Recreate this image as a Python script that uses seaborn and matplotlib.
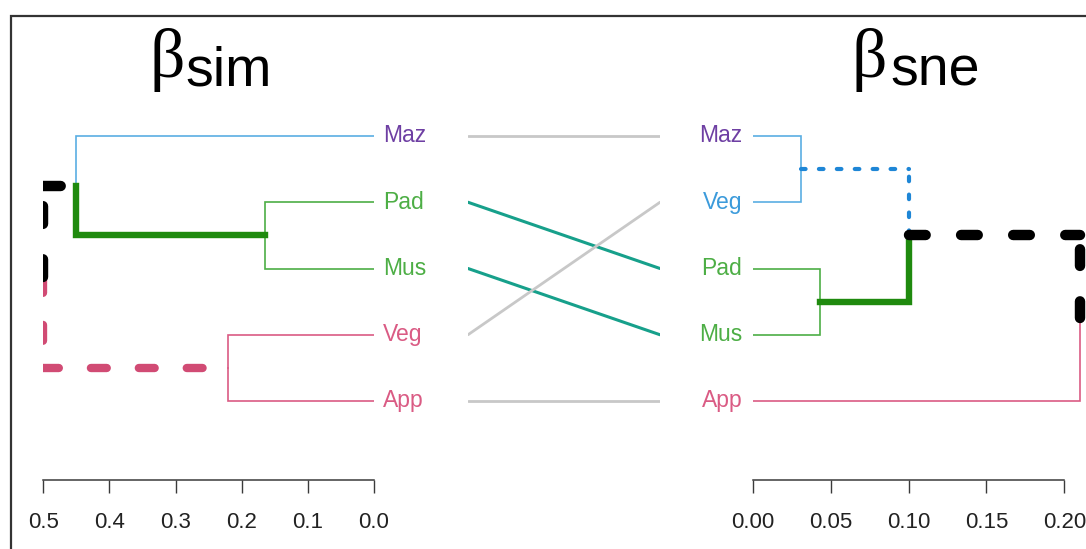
import matplotlib
matplotlib.use("Agg")
import matplotlib.pyplot as plt
import matplotlib.patches as mpatches
import seaborn as sns
import pandas as pd

# ---------------- data ----------------
sim_labels = ["Maz", "Pad", "Mus", "Veg", "App"]
sne_labels = ["Maz", "Veg", "Pad", "Mus", "App"]

# merges: (child_a, child_b, height)
sim_merges = [("Pad", "Mus", 0.165),
              ("Veg", "App", 0.22),
              ("Maz", "Pad+Mus", 0.45),
              ("Maz+Pad+Mus", "Veg+App", 0.50)]
sne_merges = [("Maz", "Veg", 0.031),
              ("Pad", "Mus", 0.043),
              ("Maz+Veg", "Pad+Mus", 0.10),
              ("Maz+Veg+Pad+Mus", "App", 0.21)]

sim_ticks = [0.5, 0.4, 0.3, 0.2, 0.1, 0.0]
sim_ticklabels = ["0.5", "0.4", "0.3", "0.2", "0.1", "0.0"]
sne_ticks = [0.00, 0.05, 0.10, 0.15, 0.20]
sne_ticklabels = ["0.00", "0.05", "0.10", "0.15", "0.20"]

# ---------------- styles ----------------
PURPLE = "#6E3FA3"
GREEN_T = "#4DAE45"
GREEN_K = "#1F8A0E"
PINK_T = "#DA5B84"
PINK_K = "#D14B74"
BLUE_T = "#5AAEE3"
BLUE_K = "#1E86D6"
TEAL = "#17A08B"
GREY = "#C8C8C8"

sim_label_colors = {"Maz": PURPLE, "Pad": GREEN_T, "Mus": GREEN_T, "Veg": PINK_T, "App": PINK_T}
sne_label_colors = {"Maz": PURPLE, "Veg": "#3C9BDB", "Pad": GREEN_T, "Mus": GREEN_T, "App": PINK_T}

thin = dict(lw=1.2, ls="-")
sim_edge = {
    "Maz": dict(color=BLUE_T, **thin),
    "Pad": dict(color=GREEN_T, **thin),
    "Mus": dict(color=GREEN_T, **thin),
    "Veg": dict(color=PINK_T, **thin),
    "App": dict(color=PINK_T, **thin),
    "Pad+Mus": dict(color=GREEN_K, lw=4.6, ls="-"),
    "Maz+Pad+Mus": dict(color="black", lw=7.5, ls=(0, (1.7, 3.4))),
    "Veg+App": dict(color=PINK_K, lw=6.0, ls=(0, (1.9, 3.85))),
}
sne_edge = {
    "Maz": dict(color=BLUE_T, **thin),
    "Veg": dict(color=BLUE_T, **thin),
    "Pad": dict(color=GREEN_T, **thin),
    "Mus": dict(color=GREEN_T, **thin),
    "App": dict(color=PINK_T, **thin),
    "Maz+Veg": dict(color=BLUE_K, lw=3.0, ls=(0, (1.1, 3.2))),
    "Pad+Mus": dict(color=GREEN_K, lw=4.6, ls="-"),
    "Maz+Veg+Pad+Mus": dict(color="black", lw=7.5, ls=(0, (1.6, 3.4))),
}

tangle_colors = {"Maz": GREY, "Pad": TEAL, "Mus": TEAL, "Veg": GREY, "App": GREY}

# ---------------- figure ----------------
sns.set_theme(style="white")
plt.rcParams["font.family"] = ["Liberation Sans", "DejaVu Sans"]

W, H = 1086, 549
fig = plt.figure(figsize=(W / 100, H / 100), dpi=100)
fig.patch.set_facecolor("white")

def fx(px):
    return px / W

def fy(py):
    return 1 - py / H

y_top_px, y_bot_px = 100, 480
leaf0_px, leaf_step = 136, 66.25
ylim = ((y_bot_px - leaf0_px) / leaf_step, (y_top_px - leaf0_px) / leaf_step)
ax_h = (y_bot_px - y_top_px) / H

ax_l = fig.add_axes([fx(43.3), fy(y_bot_px), (374 - 43.3) / W, ax_h])
ax_m = fig.add_axes([fx(468), fy(y_bot_px), (660 - 468) / W, ax_h])
ax_r = fig.add_axes([fx(752.7), fy(y_bot_px), (W - 752.7) / W, ax_h])

ax_l.set_xlim(0.5, 0.0)
ax_r.set_xlim(0.0, (W - 752.7) / 1558.0)
ax_m.set_xlim(0, 1)
for a in (ax_l, ax_m, ax_r):
    a.set_ylim(*ylim)
    a.set_facecolor("none")


def draw_tree(ax, labels, merges, styles, horiz_from_parent):
    pos = {lab: (0.0, float(i)) for i, lab in enumerate(labels)}
    edges = []
    for a, b, h in merges:
        ya, yb = pos[a][1], pos[b][1]
        yp = (ya + yb) / 2
        for child in (a, b):
            hc, yc = pos[child]
            edges.append((child, h, yp, hc, yc))
        pos[a + "+" + b] = (h, yp)
    for child, h, yp, hc, yc in edges:
        st = styles[child]
        kw = dict(color=st["color"], lw=st["lw"], zorder=1 + st["lw"])
        if st["ls"] == "-":
            ax.plot([h, h, hc], [yp, yc, yc], ls="-", solid_capstyle="projecting",
                    solid_joinstyle="miter", **kw)
        else:
            # vertical piece starts at the parent node
            ax.plot([h, h], [yp, yc], ls=st["ls"], dash_capstyle="round", **kw)
            # horizontal piece
            xs = [h, hc] if horiz_from_parent else [hc, h]
            ax.plot(xs, [yc, yc], ls=st["ls"], dash_capstyle="round", **kw)
    return pos


draw_tree(ax_l, sim_labels, sim_merges, sim_edge, horiz_from_parent=True)
draw_tree(ax_r, sne_labels, sne_merges, sne_edge, horiz_from_parent=False)

# leaf labels
for i, lab in enumerate(sim_labels):
    ax_l.annotate(lab, xy=(0.0, i), xytext=(6.5, 0), textcoords="offset points",
                  ha="left", va="center", fontsize=16.5, color=sim_label_colors[lab],
                  annotation_clip=False)
for i, lab in enumerate(sne_labels):
    ax_r.annotate(lab, xy=(0.0, i), xytext=(-7.5, 0), textcoords="offset points",
                  ha="right", va="center", fontsize=16.5, color=sne_label_colors[lab],
                  annotation_clip=False)

# tangle lines
for lab in sim_labels:
    yl = sim_labels.index(lab)
    yr = sne_labels.index(lab)
    df = pd.DataFrame({"x": [0.0, 1.0], "y": [yl, yr]})
    sns.lineplot(data=df, x="x", y="y", ax=ax_m, color=tangle_colors[lab],
                 lw=2.2 if tangle_colors[lab] == TEAL else 2.0, estimator=None)
ax_m.set_axis_off()
ax_m.set_ylim(*ylim)

# axes styling
for a, ticks, tl, lo, hi in ((ax_l, sim_ticks, sim_ticklabels, 0.0, 0.5),
                             (ax_r, sne_ticks, sne_ticklabels, 0.0, 0.2)):
    for s in ("top", "left", "right"):
        a.spines[s].set_visible(False)
    a.spines["bottom"].set_color("#3a3a3a")
    a.spines["bottom"].set_linewidth(1.1)
    a.spines["bottom"].set_bounds(lo, hi)
    a.set_xticks(ticks)
    a.set_xticklabels(tl)
    a.set_yticks([])
    a.tick_params(axis="x", direction="out", length=9.4, width=1.0, color="#3a3a3a",
                  pad=14, labelsize=16, labelcolor="#222222", bottom=True)
    a.set_xlabel("")
    a.set_ylabel("")
    a.grid(False)

# titles
fig.text(fx(149), fy(77), "β", fontsize=50, family=["Liberation Serif", "DejaVu Serif"],
         ha="left", va="baseline", color="black")
fig.text(fx(185), fy(85), "sim", fontsize=40, ha="left", va="baseline", color="black")
fig.text(fx(852), fy(77), "β", fontsize=50, family=["Liberation Serif", "DejaVu Serif"],
         ha="left", va="baseline", color="black")
fig.text(fx(890), fy(85), "sne", fontsize=40, ha="left", va="baseline", color="black")

# outer frame (cropped at right and bottom)
frame = mpatches.Rectangle((fx(10.5), -0.2), 1.5, fy(16) + 0.2, transform=fig.transFigure,
                           fill=False, ec="#333333", lw=1.6, zorder=10)
fig.add_artist(frame)

fig.savefig("out.png", dpi=100, facecolor="white")
